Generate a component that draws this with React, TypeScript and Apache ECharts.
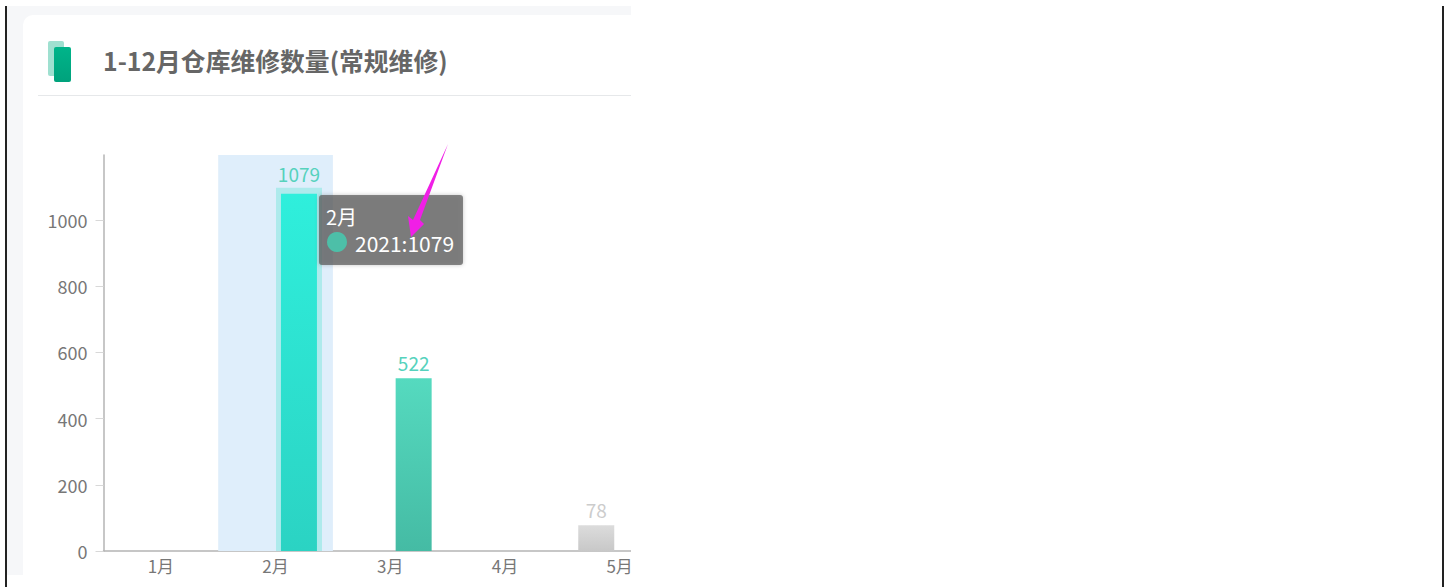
import React, { useEffect, useRef } from "react";
import * as echarts from "echarts";

const months = ["1月", "2月", "3月", "4月", "5月"];
const prevYear = [null, null, null, null, 78];
const year2021 = [null, 1079, 522, null, null];
const hoverBand = [null, 1196, null, null, null];
const hoverGlowPad = [null, null, null, null, null];
const hoverGlow = [null, 1097, null, null, null];
const yMax = 1196;
const yTicks = [0, 200, 400, 600, 800, 1000];
const titleText = "1-12月仓库维修数量(常规维修)";
const FONT = '"Noto Sans CJK SC", "Noto Sans", sans-serif';

export default function App() {
  const ref = useRef<HTMLDivElement>(null);
  useEffect(() => {
    const chart = echarts.init(ref.current!, undefined, { renderer: "svg" });
    const grad = (a: string, b: string) =>
      new echarts.graphic.LinearGradient(0, 0, 0, 1, [
        { offset: 0, color: a },
        { offset: 1, color: b },
      ]);
    const hiddenCat = {
      type: "category",
      data: months,
      position: "bottom",
      axisLine: { show: false },
      axisTick: { show: false },
      axisLabel: { show: false },
    };
    chart.setOption({
      animation: false,
      textStyle: { fontFamily: FONT },
      title: {
        text: titleText,
        left: 103,
        top: 48,
        padding: 0,
        textStyle: { fontSize: 24.8, fontWeight: "bold", color: "#666", fontFamily: FONT },
      },
      grid: { left: 103.5, top: 155, width: 573.5, height: 396, containLabel: false, outerBoundsMode: "none" },
      xAxis: [
        {
          type: "category",
          data: months,
          axisLine: { lineStyle: { color: "#b4b4b4", width: 1.5 } },
          axisTick: { show: false },
          axisLabel: { color: "#777", fontSize: 17, margin: 6, interval: 0, hideOverlap: false },
          splitLine: { show: false },
        },
        hiddenCat,
        hiddenCat,
      ],
      yAxis: {
        type: "value",
        min: 0,
        max: yMax,
        axisLine: { show: true, lineStyle: { color: "#b4b4b4", width: 1.5 } },
        axisTick: { show: true, length: 8, lineStyle: { color: "#d8d8d8" }, customValues: yTicks },
        axisLabel: { color: "#777", fontSize: 18, margin: 16, customValues: yTicks, formatter: (v: number) => String(v) },
        splitLine: { show: false },
      },
      series: [
        {
          name: "band",
          type: "bar",
          xAxisIndex: 1,
          data: hoverBand,
          barWidth: "100%",
          silent: true,
          z: 1,
          itemStyle: { color: "#dfeefb" },
        },
        { name: "glowPad", type: "bar", xAxisIndex: 2, data: hoverGlowPad, barWidth: 46, barGap: "2%", silent: true, z: 2 },
        {
          name: "glow",
          type: "bar",
          xAxisIndex: 2,
          data: hoverGlow,
          barWidth: 46,
          barGap: "2%",
          silent: true,
          z: 2,
          itemStyle: { color: "#aeeaec" },
        },
        {
          name: "2020",
          type: "bar",
          data: prevYear,
          barWidth: 36,
          barGap: "30%",
          z: 3,
          itemStyle: { color: grad("#dcdcdc", "#c8c8c8") },
          label: { show: true, position: "top", distance: 6, color: "#ccc", fontSize: 19 },
        },
        {
          name: "2021",
          type: "bar",
          data: year2021.map((v, i) =>
            i === 1
              ? {
                  value: v,
                  itemStyle: { color: grad("#2fefdc", "#2bd3c3") },
                  label: { distance: 11 },
                }
              : v
          ),
          barWidth: 36,
          barGap: "30%",
          z: 3,
          itemStyle: { color: grad("#55dabf", "#45bba4") },
          label: { show: true, position: "top", distance: 6, color: "#56d2bd", fontSize: 19 },
        },
      ],
      graphic: [
        { type: "rect", z: 50, shape: { x: 48, y: 41, width: 16, height: 35, r: 2 }, style: { fill: "#9fe0d0" } },
        {
          type: "rect",
          z: 51,
          shape: { x: 54, y: 47, width: 17, height: 35, r: 2 },
          style: { fill: grad("#00b48a", "#00a27c") },
        },
        {
          type: "line",
          z: 50,
          shape: { x1: 38, y1: 95.5, x2: 631, y2: 95.5 },
          style: { stroke: "#e6e8ea", lineWidth: 1 },
        },
        {
          type: "rect",
          z: 70,
          shape: { x: 319, y: 195, width: 144, height: 70, r: 3 },
          style: { fill: "rgba(90,90,90,0.72)", shadowBlur: 4, shadowColor: "rgba(0,0,0,0.3)" },
        },
        {
          type: "text",
          z: 71,
          x: 326,
          y: 206,
          style: { text: "2月", fill: "#fff", font: `20px ${FONT}` },
        },
        { type: "circle", z: 71, shape: { cx: 337, cy: 242, r: 10 }, style: { fill: "#4dbfa8" } },
        {
          type: "text",
          z: 71,
          x: 355,
          y: 232,
          style: { text: "2021:1079", fill: "#fff", font: `21px ${FONT}` },
        },
        {
          type: "polygon",
          z: 75,
          shape: {
            points: [
              [448, 144],
              [420, 220],
              [424, 224],
              [411, 237],
              [408, 216],
              [413, 220],
            ],
          },
          style: { fill: "#f01fe6" },
        },
      ],
    });
    return () => chart.dispose();
  }, []);

  return (
    <div style={{ position: "absolute", left: 0, top: 0, width: 1453, height: 587, background: "#fff", overflow: "hidden" }}>
      <div style={{ position: "absolute", left: 7, top: 6, width: 624, height: 569, background: "#f6f7f9" }} />
      <div style={{ position: "absolute", left: 23, top: 15, width: 608, height: 560, background: "#fff", borderTopLeftRadius: 10 }} />
      <div style={{ position: "absolute", left: 5, top: 6, width: 1.5, height: 581, background: "#222" }} />
      <div style={{ position: "absolute", left: 1442, top: 6, width: 1.5, height: 581, background: "#222" }} />
      <div ref={ref} style={{ position: "absolute", left: 0, top: 0, width: 631, height: 587 }} />
    </div>
  );
}
